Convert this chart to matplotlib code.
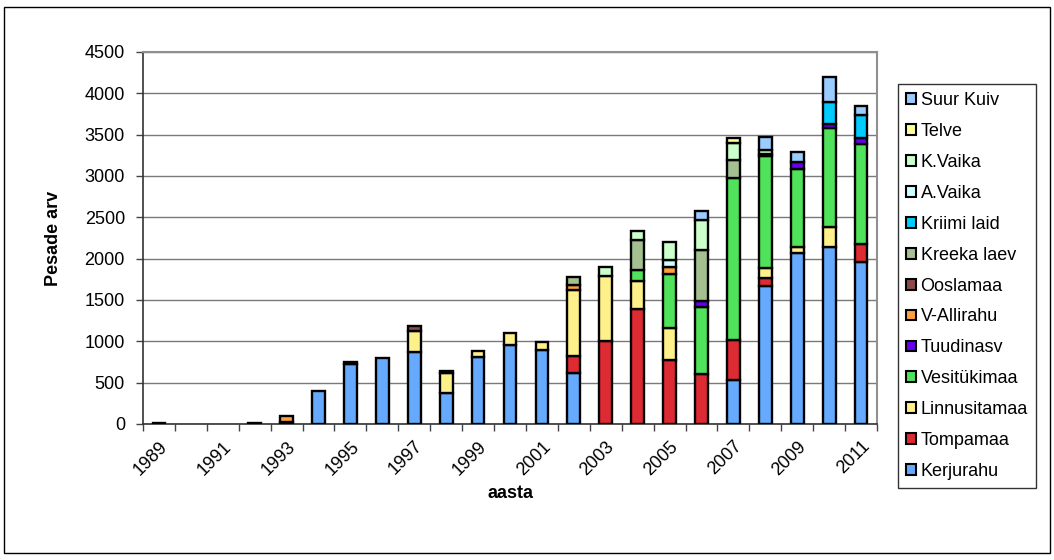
import numpy as np
import matplotlib
matplotlib.use("Agg")
import matplotlib.pyplot as plt
from matplotlib.patches import Rectangle

plt.rcParams['font.family'] = ['Liberation Sans', 'DejaVu Sans']

years = list(range(1989, 2012))

# nest counts per colony, 1989..2011
kerjurahu    = [10, 0, 0, 10, 30, 395, 720, 800, 865, 375, 810, 960, 890, 615, 0, 0, 0, 0, 530, 1665, 2065, 2140, 1955]
tompamaa     = [0, 0, 0, 0, 0, 0, 0, 0, 0, 0, 0, 0, 0, 210, 1000, 1390, 770, 610, 485, 100, 0, 0, 225]
linnusitamaa = [0, 0, 0, 0, 0, 0, 0, 0, 255, 240, 70, 140, 100, 790, 795, 335, 395, 0, 0, 120, 80, 240, 0]
vesitykimaa  = [0, 0, 0, 0, 0, 0, 0, 0, 0, 0, 0, 0, 0, 0, 0, 135, 650, 805, 1965, 1355, 945, 1195, 1205]
tuudinasv    = [0, 0, 0, 0, 0, 0, 0, 0, 0, 0, 0, 0, 0, 0, 0, 0, 0, 70, 0, 30, 75, 60, 70]
v_allirahu   = [0, 0, 0, 0, 70, 0, 25, 0, 0, 0, 0, 0, 0, 70, 0, 0, 85, 0, 0, 0, 0, 0, 0]
ooslamaa     = [0, 0, 0, 0, 0, 0, 0, 0, 65, 30, 0, 0, 0, 0, 0, 0, 0, 0, 0, 0, 0, 0, 0]
kreeka_laev  = [0, 0, 0, 0, 0, 0, 0, 0, 0, 0, 0, 0, 0, 95, 0, 360, 0, 625, 215, 0, 0, 0, 0]
kriimi_laid  = [0, 0, 0, 0, 0, 0, 0, 0, 0, 0, 0, 0, 0, 0, 0, 0, 0, 0, 0, 0, 0, 260, 280]
a_vaika      = [0, 0, 0, 0, 0, 0, 0, 0, 0, 0, 0, 0, 0, 0, 0, 0, 85, 0, 0, 0, 0, 0, 0]
k_vaika      = [0, 0, 0, 0, 0, 0, 0, 0, 0, 0, 0, 0, 0, 0, 100, 110, 215, 355, 210, 40, 0, 0, 0]
telve        = [0, 0, 0, 0, 0, 0, 0, 0, 0, 0, 0, 0, 0, 0, 0, 0, 0, 0, 55, 0, 0, 0, 0]
suur_kuiv    = [0, 0, 0, 0, 0, 0, 0, 0, 0, 0, 0, 0, 0, 0, 0, 0, 0, 110, 0, 160, 120, 300, 115]

series = [
    ('Kerjurahu', kerjurahu, '#66aaff'),
    ('Tompamaa', tompamaa, '#dd2a33'),
    ('Linnusitamaa', linnusitamaa, '#fff18a'),
    ('Vesitükimaa', vesitykimaa, '#4fe25a'),
    ('Tuudinasv', tuudinasv, '#6600ee'),
    ('V-Allirahu', v_allirahu, '#ffa040'),
    ('Ooslamaa', ooslamaa, '#8b4a4a'),
    ('Kreeka laev', kreeka_laev, '#a4bf90'),
    ('Kriimi laid', kriimi_laid, '#00ccff'),
    ('A.Vaika', a_vaika, '#ccffff'),
    ('K.Vaika', k_vaika, '#ccffcc'),
    ('Telve', telve, '#ffff99'),
    ('Suur Kuiv', suur_kuiv, '#99ccff'),
]

W, H = 1054, 560
fig = plt.figure(figsize=(W / 100, H / 100), dpi=100)
ax = fig.add_axes([143 / W, 1 - 424 / H, (877 - 143) / W, (424 - 52) / H])

x = np.arange(len(years))
bottom = np.zeros(len(years))
handles = []
for name, vals, col in series:
    vals = np.array(vals, dtype=float)
    idx = vals > 0
    ax.bar(x[idx], vals[idx], 0.4, bottom=bottom[idx], color=col,
           edgecolor='black', linewidth=1.7, zorder=3)
    handles.append(Rectangle((0, 0), 1, 1, facecolor=col, edgecolor='black', linewidth=1.5))
    bottom += vals

ax.set_xlim(-0.5, len(years) - 0.5)
ax.set_ylim(0, 4500)
ax.set_yticks(np.arange(0, 4501, 500))
ax.yaxis.grid(True, color='#7a7a7a', linewidth=1.0, zorder=0)
ax.set_axisbelow(True)

ax.set_xticks(x[::2])
ax.set_xticklabels([str(y) for y in years[::2]], rotation=45, ha='right',
                   rotation_mode='anchor', fontsize=13)
ax.set_xticks(np.arange(-0.5, len(years)), minor=True)
ax.tick_params(axis='x', which='major', length=0, pad=10)
ax.tick_params(axis='x', which='minor', length=5, width=1, color='#444444', direction='out')
ax.tick_params(axis='y', labelsize=13, length=5, width=1, color='#444444', direction='out', pad=8)

for s in ('top', 'right'):
    ax.spines[s].set_color('#909090')
    ax.spines[s].set_linewidth(1.5)
for s in ('left', 'bottom'):
    ax.spines[s].set_color('#333333')
    ax.spines[s].set_linewidth(1.2)

ax.set_ylabel('Pesade arv', fontsize=13, fontweight='bold', labelpad=16)
ax.set_xlabel('aasta', fontsize=13, fontweight='bold', labelpad=5)

leg = fig.legend(handles[::-1], [s[0] for s in series][::-1],
                 loc='upper left', bbox_to_anchor=(898 / W, 1 - 84 / H),
                 fontsize=13, frameon=True, fancybox=False, edgecolor='black',
                 handlelength=0.55, handleheight=0.55, handletextpad=0.25,
                 labelspacing=0.77, borderpad=0.45, borderaxespad=0)
leg.get_frame().set_linewidth(1.0)

# outer border round the whole chart
fig.patches.append(Rectangle((4 / W, 7 / H), (1050 - 4) / W, (553 - 7) / H,
                             transform=fig.transFigure, fill=False,
                             edgecolor='black', linewidth=1.0))

fig.savefig('out.png', dpi=100)
